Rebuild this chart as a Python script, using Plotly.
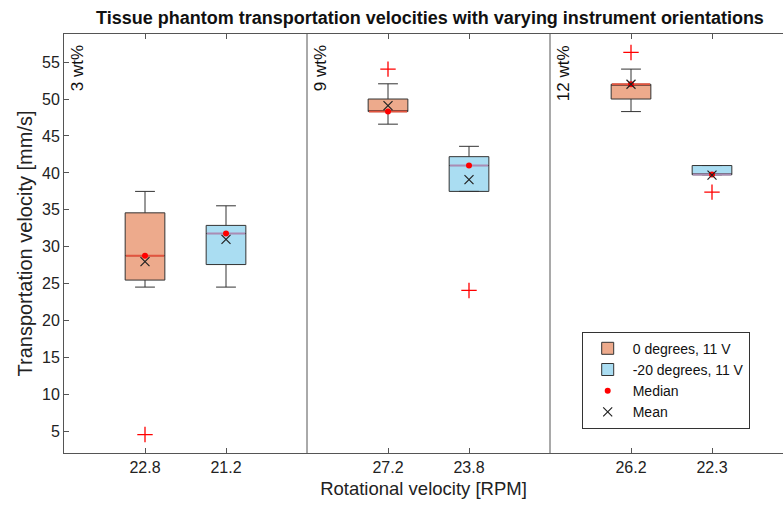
import plotly.graph_objects as go

# ---- data ----
positions = [1, 2, 4, 5, 7, 8]
tick_labels = ["22.8", "21.2", "27.2", "23.8", "26.2", "22.3"]
group_names = ["0 degrees, 11 V", "-20 degrees, 11 V"]
group_of_box = [0, 1, 0, 1, 0, 1]

q1 = [25.5, 27.6, 48.3, 37.5, 50.0, 39.75]
medians = [28.8, 31.8, 48.3, 41.0, 52.0, 39.8]
q3 = [34.6, 32.9, 50.0, 42.2, 52.0, 41.0]
lower_whisker = [24.55, 24.55, 46.6, 37.5, 48.3, 39.75]
upper_whisker = [37.5, 35.55, 52.06, 43.6, 54.05, 41.0]
means = [28.0, 31.0, 49.1, 39.1, 52.0, 39.7]

outlier_x = [1, 4, 5, 7, 8]
outlier_y = [4.6, 54.05, 24.1, 56.3, 37.4]

panel_labels = ["3 wt%", "9 wt%", "12 wt%"]
panel_starts = [0, 3, 6]
separators = [3, 6]

# ---- styles ----
fills = ["#EDAA8C", "#AADDF2"]
median_line_colors = ["#E2553F", "#AA8CB4"]
edge = "#333333"
axis_col = "#555555"
box_w = 0.49
FONT = "Liberation Sans, Arial, Helvetica, sans-serif"

fig = go.Figure()

for g in range(2):
    idx = [i for i, gg in enumerate(group_of_box) if gg == g]
    fig.add_trace(go.Box(
        name=group_names[g],
        x=[positions[i] for i in idx],
        q1=[q1[i] for i in idx],
        median=[medians[i] for i in idx],
        q3=[q3[i] for i in idx],
        lowerfence=[lower_whisker[i] for i in idx],
        upperfence=[upper_whisker[i] for i in idx],
        width=box_w,
        whiskerwidth=0.5,
        fillcolor=fills[g],
        line=dict(color=edge, width=1),
        boxpoints=False,
        hoverinfo="skip",
    ))

# median lines drawn over the box outline
for g in range(2):
    xs, ys = [], []
    for i, gg in enumerate(group_of_box):
        if gg == g:
            xs += [positions[i] - box_w / 2 + 0.01, positions[i] + box_w / 2 - 0.01, None]
            ys += [medians[i], medians[i], None]
    fig.add_trace(go.Scatter(x=xs, y=ys, mode="lines",
                             line=dict(color=median_line_colors[g], width=2),
                             showlegend=False, hoverinfo="skip"))

fig.add_trace(go.Scatter(x=outlier_x, y=outlier_y, mode="markers",
                         marker=dict(symbol="cross-thin", size=11, color="red",
                                     line=dict(color="red", width=1.3)),
                         showlegend=False, hoverinfo="skip"))

fig.add_trace(go.Scatter(name="Median", x=positions, y=medians, mode="markers",
                         marker=dict(symbol="circle", size=6, color="red")))

fig.add_trace(go.Scatter(name="Mean", x=positions, y=means, mode="markers",
                         marker=dict(symbol="x-thin", size=9, color="#222222",
                                     line=dict(color="#222222", width=1.2))))

for s in separators:
    fig.add_shape(type="line", xref="x", yref="paper", x0=s, x1=s, y0=0, y1=1,
                  line=dict(color=axis_col, width=1))

for lab, st in zip(panel_labels, panel_starts):
    fig.add_annotation(text=lab, x=st + 0.16, xref="x", y=0.978, yref="paper",
                       textangle=-90, xanchor="center", yanchor="top",
                       showarrow=False, font=dict(size=17, color="#111111"))

W, H = 783, 508
L, R, T, B = 64, 0, 34, 55
px_per_unit = 81.0
x_max = (W - L - R) / px_per_unit

fig.update_layout(
    width=W, height=H,
    margin=dict(l=L, r=R, t=T, b=B, autoexpand=False),
    paper_bgcolor="white", plot_bgcolor="white",
    font=dict(family=FONT, size=16, color="#222222"),
    boxmode="overlay",
    title=dict(text="<b>Tissue phantom transportation velocities with varying instrument orientations</b>",
               x=(430 - L) / (W - L), xref="paper", xanchor="center",
               y=1 - 18 / H, yref="container", yanchor="middle",
               font=dict(size=18, color="#111111"), automargin=False),
    xaxis=dict(range=[0, x_max], tickvals=positions, ticktext=tick_labels,
               ticks="inside", ticklen=5, tickcolor=axis_col,
               showline=True, linecolor=axis_col, linewidth=1, mirror="ticks",
               showgrid=False, zeroline=False, automargin=False,
               title=dict(text="Rotational velocity [RPM]", font=dict(size=18.5), standoff=6)),
    yaxis=dict(range=[2.1, 58.8], tickvals=[5, 10, 15, 20, 25, 30, 35, 40, 45, 50, 55],
               ticks="inside", ticklen=5, tickcolor=axis_col,
               showline=True, linecolor=axis_col, linewidth=1, mirror=False,
               showgrid=False, zeroline=False, automargin=False,
               title=dict(text="Transportation velocity [mm/s]", font=dict(size=20), standoff=4)),
    legend=dict(x=(581.7 - L) / (W - L), xanchor="left",
                y=(H - B - 331.7) / (H - B - T), yanchor="top",
                bgcolor="white", bordercolor="#333333", borderwidth=1,
                font=dict(size=14, color="#111111"),
                tracegroupgap=0, itemwidth=40),
    showlegend=True,
)

fig.write_html("out.html",
               config={"displayModeBar": False, "staticPlot": True},
               post_script="document.body.style.margin='0';document.body.style.overflow='hidden';")
